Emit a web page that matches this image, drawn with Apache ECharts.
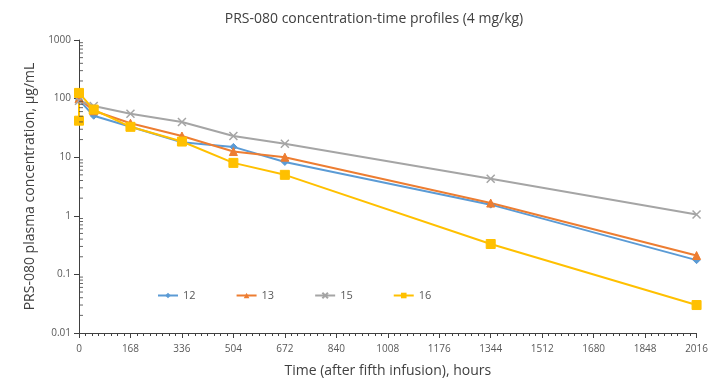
<!DOCTYPE html>
<html>
<head>
<meta charset="utf-8">
<script src="https://cdn.jsdelivr.net/npm/echarts@6/dist/echarts.min.js"></script>
<style>
  html, body { margin: 0; padding: 0; background: #fff; }
  #chart { width: 711px; height: 383px; }
</style>
</head>
<body>
<div id="chart"></div>
<script>
// sampling times (hours after fifth infusion)
const times = [0, 48, 168, 336, 504, 672, 1344, 2016];
const xTicks = [0, 168, 336, 504, 672, 840, 1008, 1176, 1344, 1512, 1680, 1848, 2016];

// plasma concentration, µg/mL
const s12 = [95, 51, 33, 18, 15, 8.3, 1.55, 0.175];
const s13 = [100, 62, 38, 23, 12.5, 10, 1.65, 0.21];
const s15 = [92, 75, 55, 40, 23, 17, 4.3, 1.05];
const s16Times = [0, 0, 48, 168, 336, 504, 672, 1344, 2016];
const s16 = [42, 125, 65, 33, 18.5, 8, 5, 0.33, 0.03];

// log-axis minor ticks (2..9 in each decade)
const decades = [0.01, 0.1, 1, 10, 100];
const minorSteps = [2, 3, 4, 5, 6, 7, 8, 9];
const yMinor = [];
decades.forEach((d) => minorSteps.forEach((m) => yMinor.push([0, d * m])));

const font = "'Open Sans', 'Liberation Sans', sans-serif";
const crossPath = "path://M0,0L10,10M10,0L0,10";

const pairs = (xs, ys) => ys.map((v, i) => [xs[i], v]);

const mkSeries = (name, xs, ys, color, symbol, size, extra) => ({
  name: name,
  type: "line",
  data: pairs(xs, ys),
  symbol: symbol,
  symbolSize: size,
  lineStyle: { color: color, width: 2 },
  itemStyle: Object.assign({ color: color, borderColor: color }, extra || {}),
  emphasis: { disabled: true },
});

const chart = echarts.init(document.getElementById("chart"));

chart.setOption({
  animation: false,
  backgroundColor: "#fff",
  textStyle: { fontFamily: font },
  title: {
    text: "PRS-080 concentration-time profiles (4 mg/kg)",
    left: 369,
    textAlign: "center",
    top: 7,
    textStyle: { fontFamily: font, fontSize: 14, fontWeight: "normal", color: "#404040" },
  },
  grid: { left: 79, right: 14, top: 40, bottom: 49 },
  legend: {
    top: 285,
    left: 152,
    itemGap: 40,
    itemWidth: 20,
    itemHeight: 7,
    textStyle: { fontFamily: font, fontSize: 11, color: "#595959" },
    data: ["12", "13", "15", "16"],
  },
  xAxis: {
    type: "value",
    min: 0,
    max: 2016,
    interval: 168,
    name: "Time (after fifth infusion), hours",
    nameLocation: "middle",
    nameGap: 31,
    nameTextStyle: { fontFamily: font, fontSize: 14, color: "#404040" },
    axisLine: { lineStyle: { color: "#404040", width: 1 } },
    axisTick: { show: true, length: 5, lineStyle: { color: "#404040" } },
    minorTick: { show: true, splitNumber: 8, length: 3, lineStyle: { color: "#404040", width: 1 } },
    axisLabel: {
      fontFamily: font,
      fontSize: 10,
      color: "#595959",
      margin: 11,
      formatter: (v) => (xTicks.includes(v) ? String(v) : ""),
    },
    splitLine: { show: false },
  },
  yAxis: {
    type: "log",
    logBase: 10,
    min: 0.01,
    max: 1000,
    name: "PRS-080 plasma concentration, µg/mL",
    nameLocation: "middle",
    nameGap: 40,
    nameRotate: 90,
    nameTextStyle: { fontFamily: font, fontSize: 14, color: "#404040" },
    axisLine: { show: true, lineStyle: { color: "#404040", width: 1 } },
    axisTick: { show: true, length: 5, lineStyle: { color: "#404040" } },
    axisLabel: {
      fontFamily: font,
      fontSize: 10,
      color: "#595959",
      margin: 8,
      formatter: (v) => String(+v.toPrecision(3)),
    },
    splitLine: { show: false },
  },
  series: [
    mkSeries("12", times, s12, "#5B9BD5", "diamond", 7),
    mkSeries("13", times, s13, "#ED7D31", "triangle", 8),
    mkSeries("15", times, s15, "#A5A5A5", crossPath, 8, { color: "none", borderColor: "#A5A5A5", borderWidth: 1.5 }),
    mkSeries("16", s16Times, s16, "#FFC000", "rect", 9),
    {
      name: "yminor",
      type: "scatter",
      data: yMinor,
      symbol: "path://M0,0L4,0L4,1L0,1Z",
      symbolSize: [4, 1],
      symbolOffset: [2, 0],
      itemStyle: { color: "#404040" },
      silent: true,
      clip: false,
      z: 5,
    },
  ],
});
</script>
</body>
</html>
